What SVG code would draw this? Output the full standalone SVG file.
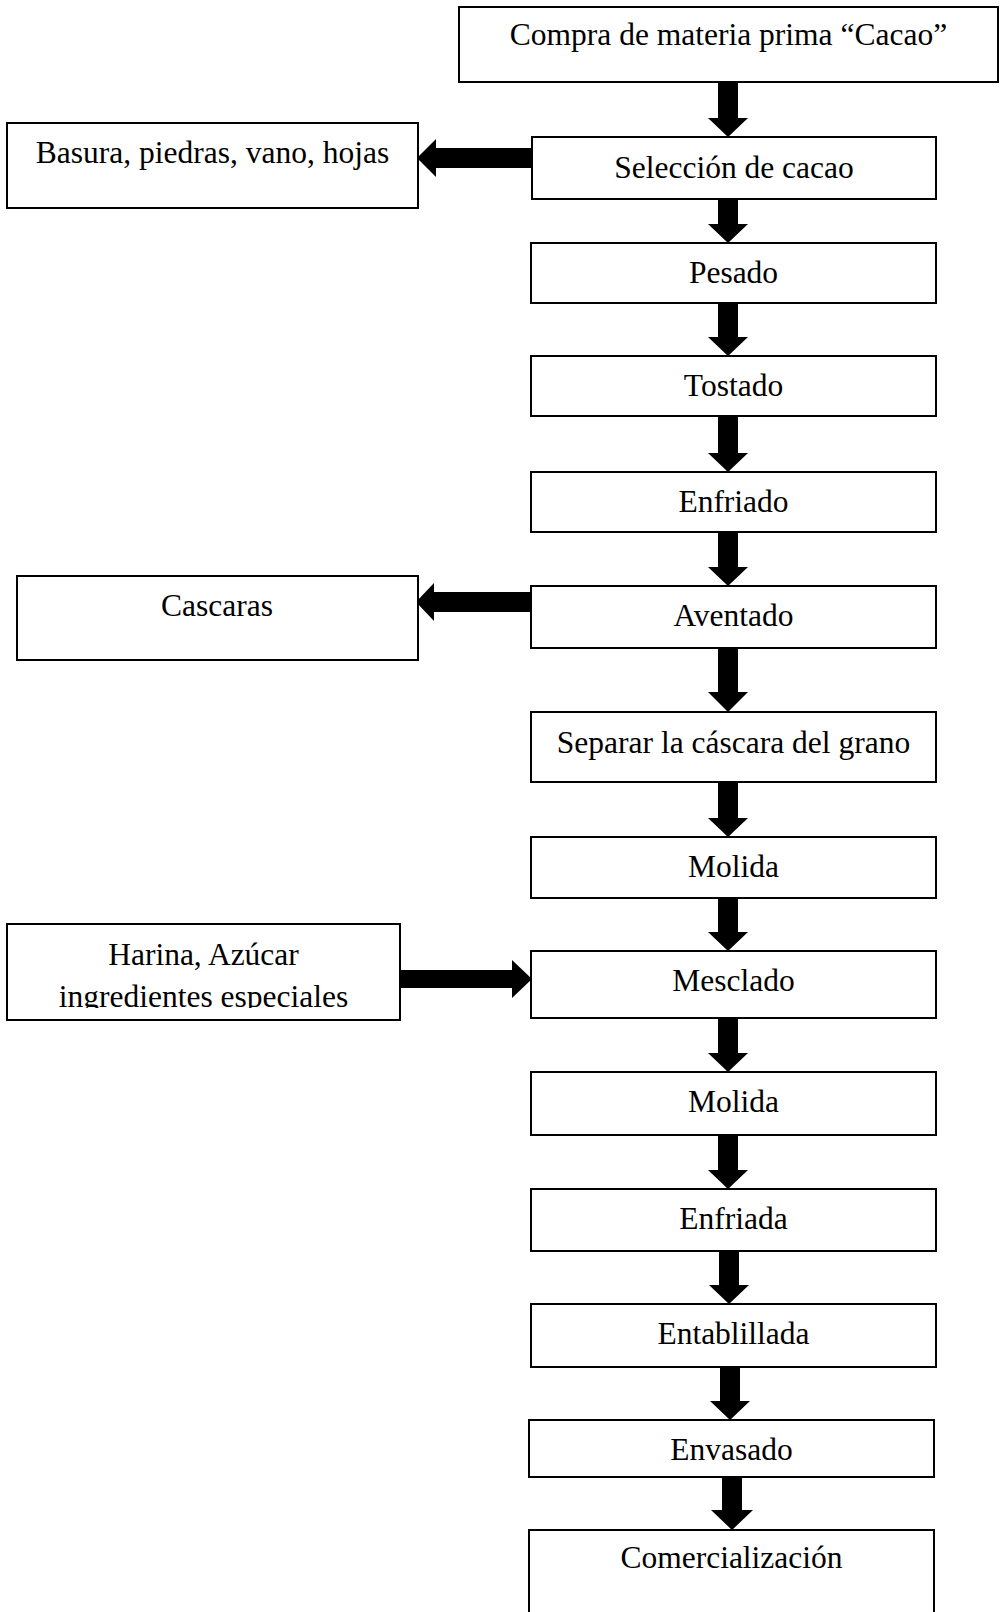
<svg xmlns="http://www.w3.org/2000/svg" width="1003" height="1612" viewBox="0 0 1003 1612">
<style>
.box{fill:#fff;stroke:#000;stroke-width:2}
.t{font-family:"Liberation Serif","Times New Roman",serif;font-size:31.5px;fill:#000;text-anchor:middle}
.arr{fill:#000}
</style>
<defs>
<clipPath id="clipHarina"><rect x="8" y="925" width="391" height="83"/></clipPath>
</defs>
<rect width="1003" height="1612" fill="#fff"/>
<g id="connectors">
<polygon class="arr" points="718,82 738,82 738,118 748,118 728,137 708,118 718,118"/>
<polygon class="arr" points="718,199 738,199 738,224 748,224 728,243 708,224 718,224"/>
<polygon class="arr" points="718,303 738,303 738,337 748,337 728,356 708,337 718,337"/>
<polygon class="arr" points="718,416 738,416 738,453 748,453 728,472 708,453 718,453"/>
<polygon class="arr" points="718,532 738,532 738,567 748,567 728,586 708,567 718,567"/>
<polygon class="arr" points="718,648 738,648 738,692 748,692 728,712 708,692 718,692"/>
<polygon class="arr" points="718,782 738,782 738,818 748,818 728,837 708,818 718,818"/>
<polygon class="arr" points="718,898 738,898 738,932 748,932 728,951 708,932 718,932"/>
<polygon class="arr" points="718,1018 738,1018 738,1053 748,1053 728,1072 708,1053 718,1053"/>
<polygon class="arr" points="718,1135 738,1135 738,1170 748,1170 728,1189 708,1170 718,1170"/>
<polygon class="arr" points="719,1251 739,1251 739,1285 749,1285 729,1304 709,1285 719,1285"/>
<polygon class="arr" points="720,1367 740,1367 740,1401 750,1401 730,1420 710,1401 720,1401"/>
<polygon class="arr" points="722,1477 742,1477 742,1510 753,1510 732,1530 711,1510 722,1510"/>
<polygon class="arr" points="531,148 436,148 436,139 417,158 436,177 436,168 531,168"/>
<polygon class="arr" points="531,592 434,592 434,583 416,602 434,621 434,612 531,612"/>
<polygon class="arr" points="400,970 512,970 512,960 532,979 512,998 512,988 400,988"/>
</g>
<g id="n1"><rect class="box" x="459" y="7" width="539" height="75"/><text class="t" x="728.5" y="45">Compra de materia prima “Cacao”</text></g>
<g id="n2"><rect class="box" x="532" y="137" width="404" height="62"/><text class="t" x="734" y="178">Selección de cacao</text></g>
<g id="n3"><rect class="box" x="7" y="123" width="411" height="85"/><text class="t" x="212.5" y="163">Basura, piedras, vano, hojas</text></g>
<g id="n4"><rect class="box" x="531" y="243" width="405" height="60"/><text class="t" x="733.5" y="283">Pesado</text></g>
<g id="n5"><rect class="box" x="531" y="356" width="405" height="60"/><text class="t" x="733.5" y="396">Tostado</text></g>
<g id="n6"><rect class="box" x="531" y="472" width="405" height="60"/><text class="t" x="733.5" y="512">Enfriado</text></g>
<g id="n7"><rect class="box" x="531" y="586" width="405" height="62"/><text class="t" x="733.5" y="626">Aventado</text></g>
<g id="n8"><rect class="box" x="17" y="576" width="401" height="84"/><text class="t" x="217" y="616">Cascaras</text></g>
<g id="n9"><rect class="box" x="531" y="712" width="405" height="70"/><text class="t" x="733.5" y="753">Separar la cáscara del grano</text></g>
<g id="n10"><rect class="box" x="531" y="837" width="405" height="61"/><text class="t" x="733.5" y="877">Molida</text></g>
<g id="n11"><rect class="box" x="531" y="951" width="405" height="67"/><text class="t" x="733.5" y="991">Mesclado</text></g>
<g id="n12"><rect class="box" x="7" y="924" width="393" height="96"/><g clip-path="url(#clipHarina)"><text class="t" x="203.5" y="965">Harina, Azúcar</text><text class="t" x="203.5" y="1007">ingredientes especiales</text></g></g>
<g id="n13"><rect class="box" x="531" y="1072" width="405" height="63"/><text class="t" x="733.5" y="1112">Molida</text></g>
<g id="n14"><rect class="box" x="531" y="1189" width="405" height="62"/><text class="t" x="733.5" y="1229">Enfriada</text></g>
<g id="n15"><rect class="box" x="531" y="1304" width="405" height="63"/><text class="t" x="733.5" y="1344">Entablillada</text></g>
<g id="n16"><rect class="box" x="529" y="1420" width="405" height="57"/><text class="t" x="731.5" y="1460">Envasado</text></g>
<g id="n17"><rect class="box" x="529" y="1530" width="405" height="100"/><text class="t" x="731.5" y="1568">Comercialización</text></g>
</svg>
